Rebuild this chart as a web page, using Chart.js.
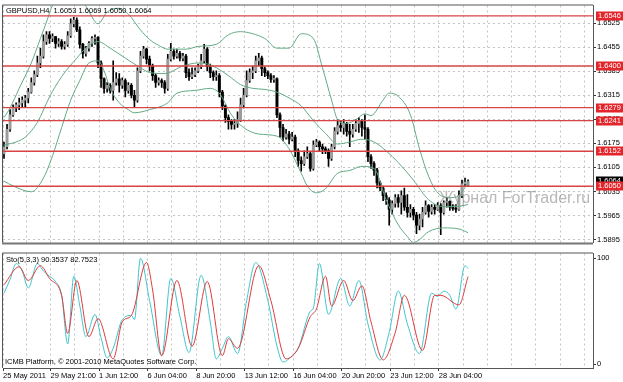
<!DOCTYPE html>
<html><head><meta charset="utf-8">
<script src="https://cdn.jsdelivr.net/npm/chart.js@4.4.0/dist/chart.umd.min.js"></script>
<style>
html,body{margin:0;padding:0;background:#fff;}
#wrap{position:relative;width:623px;height:382px;overflow:hidden;background:#fff}
#c1{position:absolute;left:0;top:0}
#c2{position:absolute;left:0;top:248px}
</style></head><body>
<div id="wrap"><canvas id="c1" width="623" height="248"></canvas><canvas id="c2" width="623" height="134"></canvas></div>
<script>
// ---------- DATA (GBPUSD H4, bars indexed 0..153) ----------
const opens = [
1.6145,1.6165,1.6216,1.6258,1.6278,1.6287,1.6293,1.6301,1.6307,1.6324,
1.6352,1.6375,1.6409,1.6429,1.6471,1.6491,1.6480,1.6486,1.6466,1.6471,
1.6457,1.6463,1.6488,1.6523,1.6534,1.6505,1.6463,1.6437,1.6452,1.6466,
1.6480,1.6483,1.6409,1.6363,1.6335,1.6344,1.6329,1.6352,1.6363,1.6344,
1.6358,1.6329,1.6344,1.6315,1.6301,1.6386,1.6429,1.6449,1.6420,1.6400,
1.6372,1.6352,1.6358,1.6352,1.6335,1.6420,1.6443,1.6429,1.6437,1.6423,
1.6429,1.6381,1.6369,1.6375,1.6386,1.6398,1.6415,1.6449,1.6398,1.6381,
1.6369,1.6372,1.6324,1.6284,1.6250,1.6239,1.6230,1.6233,1.6244,1.6287,
1.6315,1.6358,1.6381,1.6386,1.6415,1.6423,1.6392,1.6381,1.6372,1.6361,
1.6363,1.6258,1.6221,1.6193,1.6202,1.6187,1.6193,1.6153,1.6125,1.6116,
1.6136,1.6145,1.6102,1.6170,1.6179,1.6165,1.6159,1.6153,1.6131,1.6165,
1.6210,1.6227,1.6221,1.6233,1.6210,1.6202,1.6216,1.6233,1.6239,1.6221,
1.6216,1.6136,1.6116,1.6097,1.6060,1.6045,1.6023,1.6011,1.5983,1.6000,
1.6017,1.6003,1.6023,1.5989,1.5974,1.5983,1.5966,1.5937,1.5955,1.5974,
1.5994,1.5977,1.5989,1.5983,1.5994,1.5974,1.6003,1.6006,1.5989,1.5986,
1.5983,1.6023,1.6057,1.6053];
const highs = [
1.6179,1.6230,1.6273,1.6287,1.6293,1.6307,1.6310,1.6315,1.6335,1.6366,
1.6386,1.6429,1.6452,1.6491,1.6500,1.6500,1.6494,1.6486,1.6480,1.6477,
1.6471,1.6500,1.6537,1.6542,1.6540,1.6514,1.6466,1.6457,1.6471,1.6486,
1.6491,1.6486,1.6415,1.6366,1.6352,1.6349,1.6415,1.6381,1.6378,1.6366,
1.6363,1.6352,1.6349,1.6329,1.6395,1.6443,1.6457,1.6452,1.6429,1.6406,
1.6378,1.6366,1.6363,1.6358,1.6434,1.6466,1.6449,1.6449,1.6443,1.6437,
1.6434,1.6392,1.6395,1.6395,1.6406,1.6434,1.6463,1.6454,1.6406,1.6386,
1.6386,1.6378,1.6329,1.6287,1.6258,1.6244,1.6244,1.6267,1.6307,1.6335,
1.6386,1.6392,1.6400,1.6429,1.6437,1.6429,1.6398,1.6386,1.6378,1.6372,
1.6366,1.6264,1.6230,1.6216,1.6210,1.6207,1.6199,1.6159,1.6136,1.6153,
1.6165,1.6150,1.6182,1.6187,1.6182,1.6173,1.6165,1.6159,1.6173,1.6221,
1.6244,1.6239,1.6244,1.6236,1.6230,1.6230,1.6244,1.6250,1.6244,1.6258,
1.6221,1.6142,1.6122,1.6102,1.6065,1.6051,1.6031,1.6017,1.6008,1.6026,
1.6026,1.6037,1.6045,1.6026,1.5997,1.5989,1.5974,1.5969,1.5989,1.6008,
1.5997,1.5997,1.5997,1.6003,1.6000,1.6008,1.6017,1.6008,1.5997,1.5997,
1.6037,1.6068,1.6074,1.6069];
const lows = [
1.6131,1.6159,1.6210,1.6253,1.6267,1.6273,1.6281,1.6281,1.6293,1.6321,
1.6344,1.6369,1.6395,1.6423,1.6463,1.6466,1.6471,1.6452,1.6457,1.6449,
1.6449,1.6457,1.6483,1.6514,1.6500,1.6452,1.6423,1.6429,1.6443,1.6457,
1.6463,1.6395,1.6338,1.6321,1.6324,1.6321,1.6301,1.6344,1.6324,1.6335,
1.6310,1.6321,1.6307,1.6281,1.6295,1.6381,1.6423,1.6406,1.6386,1.6358,
1.6338,1.6344,1.6338,1.6321,1.6329,1.6415,1.6420,1.6423,1.6415,1.6415,
1.6366,1.6358,1.6363,1.6369,1.6381,1.6392,1.6409,1.6386,1.6366,1.6358,
1.6358,1.6310,1.6273,1.6236,1.6216,1.6216,1.6216,1.6221,1.6239,1.6278,
1.6310,1.6352,1.6363,1.6381,1.6400,1.6372,1.6369,1.6363,1.6352,1.6352,
1.6250,1.6193,1.6182,1.6187,1.6173,1.6182,1.6136,1.6108,1.6094,1.6111,
1.6131,1.6094,1.6097,1.6165,1.6153,1.6145,1.6145,1.6108,1.6125,1.6159,
1.6202,1.6210,1.6202,1.6196,1.6165,1.6193,1.6210,1.6207,1.6196,1.6187,
1.6122,1.6102,1.6082,1.6045,1.6037,1.6008,1.5997,1.5937,1.5969,1.5989,
1.5989,1.5969,1.5980,1.5960,1.5960,1.5952,1.5912,1.5923,1.5932,1.5969,
1.5960,1.5969,1.5969,1.5980,1.5909,1.5969,1.5989,1.5980,1.5980,1.5974,
1.5980,1.6017,1.6051,1.6050];
const closes = [
1.6165,1.6216,1.6258,1.6278,1.6287,1.6293,1.6301,1.6307,1.6324,1.6352,
1.6375,1.6409,1.6429,1.6471,1.6491,1.6480,1.6486,1.6466,1.6471,1.6457,
1.6463,1.6488,1.6523,1.6534,1.6505,1.6463,1.6437,1.6452,1.6466,1.6480,
1.6483,1.6409,1.6363,1.6335,1.6344,1.6329,1.6352,1.6363,1.6344,1.6358,
1.6329,1.6344,1.6315,1.6301,1.6386,1.6429,1.6449,1.6420,1.6400,1.6372,
1.6352,1.6358,1.6352,1.6335,1.6420,1.6443,1.6429,1.6437,1.6423,1.6429,
1.6381,1.6369,1.6375,1.6386,1.6398,1.6415,1.6449,1.6398,1.6381,1.6369,
1.6372,1.6324,1.6284,1.6250,1.6239,1.6230,1.6233,1.6244,1.6287,1.6315,
1.6358,1.6381,1.6386,1.6415,1.6423,1.6392,1.6381,1.6372,1.6361,1.6363,
1.6258,1.6221,1.6193,1.6202,1.6187,1.6193,1.6153,1.6125,1.6116,1.6136,
1.6145,1.6102,1.6170,1.6179,1.6165,1.6159,1.6153,1.6131,1.6165,1.6210,
1.6227,1.6221,1.6233,1.6210,1.6202,1.6216,1.6233,1.6239,1.6221,1.6216,
1.6136,1.6116,1.6097,1.6060,1.6045,1.6023,1.6011,1.5983,1.6000,1.6017,
1.6003,1.6023,1.5989,1.5974,1.5983,1.5966,1.5937,1.5955,1.5974,1.5994,
1.5977,1.5989,1.5983,1.5994,1.5974,1.6003,1.6006,1.5989,1.5986,1.5983,
1.6023,1.6057,1.6062,1.6064];

// Bollinger bands (20,2) read at sample bars
const upperBars = [0,2,5,9,12,14,16,20,24,27,31,34,38,41,45,48,51,54,60,64,70,74,78,82,86,90,94,98,102,105,108,110,113,116,119,121,125,127,130,134,137,140,143,147,150,153];
const upperVals = [1.6250,1.6278,1.6335,1.6409,1.6480,1.6528,1.6576,1.6602,1.6602,1.6574,1.6523,1.6557,1.6568,1.6551,1.6505,1.6477,1.6460,1.6449,1.6449,1.6457,1.6463,1.6491,1.6500,1.6494,1.6480,1.6452,1.6452,1.6494,1.6480,1.6395,1.6301,1.6244,1.6233,1.6244,1.6261,1.6256,1.6301,1.6321,1.6312,1.6258,1.6159,1.6079,1.6031,1.6017,1.6023,1.6062];
const middleBars = [0,4,7,11,15,19,24,27,31,35,40,45,48,53,59,64,67,70,74,78,82,86,90,94,98,102,106,110,114,118,122,126,130,135,140,145,149,153];
const middleVals = [1.6170,1.6179,1.6193,1.6236,1.6310,1.6369,1.6423,1.6452,1.6471,1.6452,1.6423,1.6395,1.6381,1.6378,1.6400,1.6409,1.6406,1.6395,1.6372,1.6346,1.6335,1.6332,1.6324,1.6307,1.6284,1.6241,1.6204,1.6173,1.6179,1.6187,1.6179,1.6153,1.6119,1.6068,1.6011,1.5991,1.5991,1.5997];
const lowerBars = [0,3,9,13,16,19,22,25,28,31,33,35,38,41,43,48,54,57,63,68,71,75,79,84,90,94,98,100,103,106,110,114,118,122,126,130,133,135,137,140,145,150,153];
const lowerVals = [1.6065,1.6051,1.6034,1.6074,1.6139,1.6221,1.6301,1.6358,1.6409,1.6415,1.6386,1.6335,1.6293,1.6273,1.6264,1.6273,1.6293,1.6321,1.6329,1.6335,1.6321,1.6258,1.6221,1.6202,1.6196,1.6159,1.6088,1.6051,1.6031,1.6043,1.6088,1.6096,1.6108,1.6102,1.6011,1.5938,1.5904,1.5886,1.5895,1.5918,1.5929,1.5926,1.5915];

// Horizontal levels
const priceLevels = [1.6546, 1.6400, 1.6279, 1.6241, 1.6152, 1.6050];
const priceTicks = [1.5895,1.5965,1.6035,1.6105,1.6175,1.6245,1.6315,1.6385,1.6455,1.6525];

// Stochastic (5,3,3) read at sample bars
const stochMainBars = [0,2,4,6,8,11,13,15,17,19,21,23,25,27,30,32,34,36,39,42,43,45,48,52,55,58,61,65,68,70,72,74,77,80,83,87,90,92,95,97,101,102,104,107,111,114,117,120,124,127,130,133,137,141,143,145,147,149,152,153];
const stochMainVals = [67,80,95,88,72,95,88,83,78,65,19,83,55,26,47,25,6,15,42,46,42,100,60,8,81,45,11,84,40,5,15,26,10,60,96,60,17,2,8,15,50,53,95,47,81,55,79,38,4,30,69,38,10,67,64,69,65,52,93,90.35];
const stochSigBars = [0,5,8,12,15,19,21,24,28,31,36,39,42,47,49,52,57,62,67,72,74,77,84,88,93,97,101,103,106,108,112,115,118,121,125,129,132,138,142,144,150,153];
const stochSigVals = [75,92,79,93,81,65,29,79,26,43,5,40,46,96,70,8,79,17,78,8,24,15,93,60,5,15,45,52,83,55,79,60,74,40,4,30,65,13,65,65,56,82.75];
const stochTicks = [0, 100];

// Time axis labels
const timeLabels = ['25 May 2011','29 May 21:00','1 Jun 12:00','6 Jun 04:00','8 Jun 20:00','13 Jun 12:00','16 Jun 04:00','20 Jun 20:00','23 Jun 12:00','28 Jun 04:00'];

const titleText = 'GBPUSD,H4  1.6053 1.6069 1.6050 1.6064';
const stochText = 'Sto(5,3,3) 90.3537 82.7523';
const copyText = 'ICMB Platform, \u00A9 2001-2010 MetaQuotes Software Corp.';
const watermark = '\u0416\u0443\u0440\u043D\u0430\u043B ForTrader.ru';

// ---------- CONFIG ----------
const X_MIN = -0.33, X_MAX = 194.2;
const GRID_START = 7.35, GRID_STEP = 8, GRID_COUNT = 24;
const gridTickVals = [X_MIN];
for (let k = 0; k < GRID_COUNT; k++) gridTickVals.push(GRID_START + GRID_STEP * k);
function timeLabelFor(v, idx) {
  if (idx === 0) return timeLabels[0];
  const k = idx - 1;
  if (k % 2 === 1) { const m = (k - 1) / 2 + 1; return timeLabels[m] || ''; }
  return '';
}
const FONT = '"Liberation Sans", Arial, sans-serif';
Chart.defaults.font.family = FONT;
Chart.defaults.font.size = 7.5;
Chart.defaults.color = '#000';

const GRID_COLOR = '#c4c4c4';
const FRAME = '#555';
const BAND = '#62ab84';
const LEVEL = '#d84444';

function pts(bars, vals) { return bars.map((b, k) => ({ x: b, y: vals[k] })); }

const xScaleBase = (showLabels) => ({
  type: 'linear', min: X_MIN, max: X_MAX, offset: false,
  afterBuildTicks: s => { s.ticks = gridTickVals.map(v => ({ value: v })); },
  afterFit: s => { s.height = showLabels ? 14 : 0; },
  grid: {
    color: GRID_COLOR, drawTicks: showLabels, tickLength: 3, offset: false,
    tickColor: ctx => (ctx.tick && ctx.tick.label) ? '#333' : 'rgba(0,0,0,0)'
  },
  border: { display: showLabels, color: FRAME, dash: [2, 3] },
  ticks: {
    display: showLabels, autoSkip: false, maxRotation: 0, minRotation: 0,
    align: 'start', padding: 0, color: '#000',
    callback: (v, i) => timeLabelFor(v, i)
  }
});

const textPluginMain = {
  id: 'textMain',
  afterDatasetsDraw(chart) {
    const { ctx } = chart;
    ctx.save();
    ctx.font = '16px ' + FONT;
    ctx.fillStyle = 'rgba(125,125,125,0.55)';
    ctx.textBaseline = 'middle'; ctx.textAlign = 'left';
    ctx.fillText(watermark, 439, 199);
    ctx.restore();
  },
  afterDraw(chart) {
    const { ctx, chartArea: a, scales: { y } } = chart;
    ctx.save();
    ctx.strokeStyle = FRAME; ctx.lineWidth = 1;
    ctx.beginPath();
    ctx.moveTo(a.left - 0.5, a.bottom); ctx.lineTo(a.left - 0.5, a.top - 0.5); ctx.lineTo(a.right, a.top - 0.5);
    ctx.stroke();
    ctx.fillStyle = '#777';
    ctx.fillRect(a.left - 1, a.bottom, a.right - a.left + 1, 2);
    ctx.font = '7.5px ' + FONT; ctx.fillStyle = '#000';
    ctx.textBaseline = 'middle'; ctx.textAlign = 'left';
    ctx.fillText(titleText, a.left + 3, a.top + 5);
    const bx = a.right + 3, bw = 27;
    const box = (v, bg) => {
      const py = Math.round(y.getPixelForValue(v));
      ctx.fillStyle = bg; ctx.fillRect(bx, py - 4.5, bw, 9);
      ctx.fillStyle = '#fff'; ctx.fillText(v.toFixed(4), bx + 2, py);
    };
    box(closes[closes.length - 1], '#000');
    priceLevels.forEach(v => box(v, '#e2262b'));
    ctx.restore();
  }
};

const textPluginSub = {
  id: 'textSub',
  afterDraw(chart) {
    const { ctx, chartArea: a } = chart;
    ctx.save();
    ctx.strokeStyle = FRAME; ctx.lineWidth = 1;
    ctx.beginPath();
    ctx.moveTo(a.left - 0.5, a.bottom); ctx.lineTo(a.left - 0.5, a.top - 0.5); ctx.lineTo(a.right, a.top - 0.5);
    ctx.stroke();
    ctx.font = '7.5px ' + FONT; ctx.fillStyle = '#000';
    ctx.textBaseline = 'middle'; ctx.textAlign = 'left';
    ctx.fillText(stochText, a.left + 3, a.top + 6);
    ctx.fillText(copyText, a.left + 2, a.bottom - 6);
    ctx.restore();
  }
};

// ---------- MAIN CHART ----------
const wickData = highs.map((h, i) => ({ x: i, y: [lows[i], h] }));
const bodyData = opens.map((o, i) => ({ x: i, y: [o, closes[i]] }));
const levelSets = priceLevels.map(v => ({
  type: 'line', data: [{ x: X_MIN, y: v }, { x: X_MAX, y: v }],
  borderColor: LEVEL, borderWidth: 1.4, pointRadius: 0, order: 0
}));

new Chart(document.getElementById('c1'), {
  type: 'bar',
  data: {
    datasets: [
      { type: 'bar', data: wickData, backgroundColor: '#000', barThickness: 1, grouped: false, order: 6 },
      { type: 'bar', data: bodyData, grouped: false, barThickness: 2.3, minBarLength: 1, order: 5,
        backgroundColor: c => closes[c.dataIndex] >= opens[c.dataIndex] ? '#9c9c9c' : '#000' },
      { type: 'line', data: pts(upperBars, upperVals), borderColor: BAND, borderWidth: 1, pointRadius: 0, cubicInterpolationMode: 'monotone', order: 2 },
      { type: 'line', data: pts(middleBars, middleVals), borderColor: BAND, borderWidth: 1, pointRadius: 0, cubicInterpolationMode: 'monotone', order: 2 },
      { type: 'line', data: pts(lowerBars, lowerVals), borderColor: BAND, borderWidth: 1, pointRadius: 0, cubicInterpolationMode: 'monotone', order: 2 },
      ...levelSets
    ]
  },
  options: {
    responsive: false, animation: false, devicePixelRatio: 1, events: [],
    layout: { padding: { left: 3, top: 3, right: 0, bottom: 2 } },
    plugins: { legend: { display: false }, tooltip: { enabled: false } },
    scales: {
      x: xScaleBase(false),
      y: {
        type: 'linear', position: 'right', min: 1.58865, max: 1.65761,
        afterBuildTicks: s => { s.ticks = priceTicks.map(v => ({ value: v })); },
        afterFit: s => { s.width = 30; },
        grid: { color: GRID_COLOR, tickLength: 3, tickColor: '#333' },
        border: { color: FRAME, dash: [2, 3] },
        ticks: { padding: 1, color: '#000', callback: v => Number(v).toFixed(4) }
      }
    }
  },
  plugins: [textPluginMain]
});

// ---------- STOCHASTIC ----------
new Chart(document.getElementById('c2'), {
  type: 'line',
  data: {
    datasets: [
      { data: pts(stochSigBars, stochSigVals), borderColor: '#e03a3a', borderWidth: 1, pointRadius: 0, cubicInterpolationMode: 'monotone', order: 0 },
      { data: pts(stochMainBars, stochMainVals), borderColor: '#3fc4cc', borderWidth: 1, pointRadius: 0, cubicInterpolationMode: 'monotone', order: 1 }
    ]
  },
  options: {
    responsive: false, animation: false, devicePixelRatio: 1, events: [],
    layout: { padding: { left: 3, top: 1, right: 0, bottom: 0 } },
    plugins: { legend: { display: false }, tooltip: { enabled: false } },
    scales: {
      x: xScaleBase(true),
      y: {
        type: 'linear', position: 'right', min: -3.6, max: 104.5,
        afterBuildTicks: s => { s.ticks = stochTicks.map(v => ({ value: v })); },
        afterFit: s => { s.width = 30; },
        grid: { drawOnChartArea: false, tickLength: 3, tickColor: '#333' },
        border: { color: FRAME },
        ticks: { padding: 1, color: '#000', callback: v => String(v) }
      }
    }
  },
  plugins: [textPluginSub]
});
</script>
</body></html>
